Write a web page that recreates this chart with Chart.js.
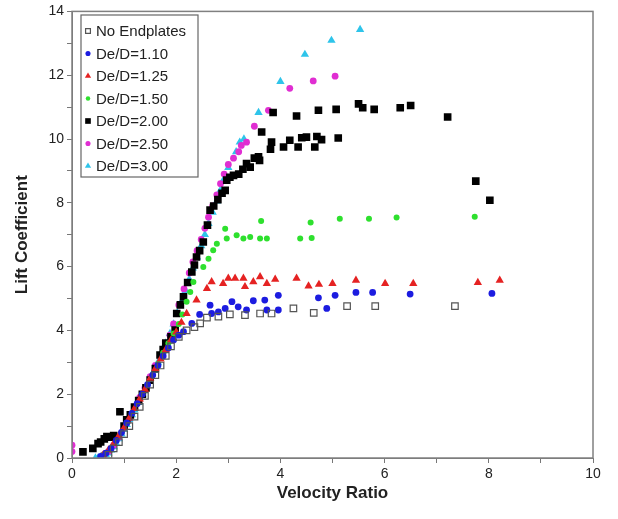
<!DOCTYPE html>
<html>
<head>
<meta charset="utf-8">
<script src="https://cdn.jsdelivr.net/npm/chart.js@4.4.0/dist/chart.umd.min.js"></script>
<style>
  html, body { margin: 0; padding: 0; background: #fff; }
  #mycanvas { display: block; }
</style>
</head>
<body>
<canvas id="mycanvas" width="618" height="519"></canvas>
<script>
// series labels and values, [velocity ratio, lift coefficient]
const seriesLabels = ['No Endplates', 'De/D=1.10', 'De/D=1.25', 'De/D=1.50', 'De/D=2.00', 'De/D=2.50', 'De/D=3.00'];

const noEndplates = [[0.7, 0.1], [0.8, 0.3], [0.9, 0.5], [1.0, 0.75], [1.1, 1.0], [1.2, 1.3], [1.3, 1.6], [1.4, 1.95],
    [1.5, 2.3], [1.6, 2.6], [1.7, 2.9], [1.8, 3.2], [1.9, 3.5], [2.05, 3.8], [2.2, 4.0], [2.35, 4.1], [2.46, 4.22],
    [2.59, 4.4], [2.81, 4.43], [3.03, 4.5], [3.32, 4.48], [3.61, 4.53], [3.83, 4.53], [4.25, 4.69], [4.64, 4.55],
    [5.28, 4.76], [5.82, 4.76], [7.35, 4.76]];

const de110 = [[0.55, 0.05], [0.65, 0.15], [0.75, 0.3], [0.85, 0.55], [0.95, 0.8], [1.05, 1.1], [1.15, 1.4],
    [1.25, 1.7], [1.35, 2.0], [1.45, 2.3], [1.55, 2.6], [1.65, 2.9], [1.75, 3.2], [1.85, 3.45], [1.95, 3.7],
    [2.05, 3.85], [2.14, 3.96], [2.3, 4.22], [2.45, 4.5], [2.65, 4.79], [2.68, 4.53], [2.81, 4.58], [2.94, 4.69],
    [3.07, 4.9], [3.19, 4.74], [3.35, 4.64], [3.48, 4.93], [3.7, 4.95], [3.74, 4.64], [3.96, 4.64], [3.96, 5.1],
    [4.73, 5.02], [4.89, 4.69], [5.05, 5.1], [5.45, 5.19], [5.77, 5.19], [6.49, 5.14], [8.06, 5.16]];

const de125 = [[0.6, 0.1], [0.7, 0.25], [0.8, 0.45], [0.9, 0.7], [1.0, 0.95], [1.1, 1.25], [1.2, 1.55], [1.3, 1.85],
    [1.4, 2.15], [1.5, 2.5], [1.6, 2.8], [1.7, 3.1], [1.8, 3.4], [1.9, 3.7], [2.0, 3.95], [2.1, 4.25], [2.2, 4.53],
    [2.39, 4.95], [2.59, 5.31], [2.68, 5.52], [2.9, 5.47], [3.0, 5.63], [3.13, 5.63], [3.29, 5.63], [3.32, 5.37],
    [3.48, 5.52], [3.61, 5.68], [3.74, 5.47], [3.9, 5.6], [4.31, 5.63], [4.54, 5.39], [4.74, 5.44], [5.0, 5.47],
    [5.45, 5.57], [6.01, 5.47], [6.55, 5.47], [7.79, 5.5], [8.21, 5.57]];

const de150 = [[0.6, 0.1], [0.75, 0.3], [0.85, 0.55], [0.95, 0.8], [1.05, 1.1], [1.15, 1.4], [1.25, 1.7],
    [1.35, 2.0], [1.45, 2.3], [1.55, 2.6], [1.65, 2.95], [1.75, 3.3], [1.85, 3.6], [1.95, 3.9], [2.05, 4.2],
    [2.12, 4.5], [2.2, 4.9], [2.27, 5.2], [2.33, 5.52], [2.52, 5.99], [2.62, 6.25], [2.71, 6.51], [2.78, 6.72],
    [2.94, 7.19], [2.97, 6.88], [3.16, 6.98], [3.29, 6.88], [3.42, 6.93], [3.61, 6.88], [3.63, 7.43], [3.74, 6.88],
    [4.38, 6.88], [4.58, 7.38], [4.6, 6.9], [5.14, 7.5], [5.7, 7.5], [6.23, 7.54], [7.73, 7.56]];

const de200 = [[0.21, 0.19], [0.4, 0.3], [0.5, 0.45], [0.55, 0.5], [0.62, 0.6], [0.67, 0.67], [0.75, 0.65],
    [0.8, 0.7], [0.92, 1.45], [1.0, 1.0], [1.05, 1.2], [1.12, 1.35], [1.2, 1.6], [1.28, 1.8], [1.35, 2.0], [1.42, 2.2],
    [1.5, 2.44], [1.6, 2.8], [1.69, 3.23], [1.75, 3.4], [1.8, 3.6], [1.9, 3.8], [1.98, 4.01], [2.01, 4.53],
    [2.08, 4.8], [2.14, 5.05], [2.22, 5.5], [2.3, 5.83], [2.35, 6.05], [2.39, 6.3], [2.45, 6.5], [2.52, 6.77],
    [2.6, 7.3], [2.65, 7.77], [2.72, 7.9], [2.8, 8.1], [2.88, 8.3], [2.94, 8.39], [2.97, 8.71], [3.03, 8.8],
    [3.1, 8.86], [3.2, 8.9], [3.28, 9.05], [3.35, 9.23], [3.42, 9.12], [3.5, 9.4], [3.58, 9.44], [3.6, 9.33],
    [3.64, 10.22], [3.81, 9.68], [3.83, 9.9], [3.86, 10.83], [4.06, 9.75], [4.18, 9.96], [4.31, 10.72], [4.34, 9.75],
    [4.41, 10.04], [4.5, 10.06], [4.66, 9.75], [4.7, 10.08], [4.73, 10.9], [4.79, 9.98], [5.07, 10.93],
    [5.11, 10.03], [5.5, 11.1], [5.58, 10.98], [5.8, 10.93], [6.3, 10.98], [6.5, 11.05], [7.21, 10.69],
    [7.75, 8.68], [8.02, 8.08]];

const de250 = [[0.0, 0.4], [0.0, 0.2], [0.6, 0.1], [0.7, 0.2], [0.8, 0.4], [0.9, 0.65], [1.0, 0.95], [1.1, 1.25],
    [1.2, 1.6], [1.3, 1.9], [1.4, 2.2], [1.5, 2.55], [1.6, 2.9], [1.7, 3.2], [1.8, 3.5], [1.88, 3.85], [1.95, 4.2],
    [2.05, 4.8], [2.15, 5.3], [2.25, 5.8], [2.32, 6.15], [2.4, 6.5], [2.48, 6.85], [2.55, 7.2], [2.62, 7.55],
    [2.7, 7.9], [2.78, 8.25], [2.85, 8.6], [2.92, 8.9], [3.0, 9.2], [3.1, 9.4], [3.2, 9.6], [3.25, 9.8],
    [3.35, 9.9], [3.5, 10.4], [3.77, 10.9], [4.18, 11.59], [4.63, 11.82], [5.05, 11.97]];

const de300 = [[0.45, 0.0], [0.5, 0.0], [0.55, 0.02], [0.6, 0.05], [0.65, 0.1], [0.7, 0.15], [0.75, 0.25],
    [0.8, 0.35], [0.85, 0.45], [0.9, 0.6], [0.95, 0.75], [1.0, 0.9], [1.05, 1.05], [1.1, 1.2], [1.15, 1.35],
    [1.2, 1.5], [1.28, 1.75], [1.35, 2.0], [1.42, 2.25], [1.5, 2.5], [1.58, 2.75], [1.65, 3.0], [1.72, 3.3],
    [1.8, 3.6], [1.88, 3.9], [1.95, 4.2], [2.02, 4.55], [2.1, 4.9], [2.18, 5.25], [2.25, 5.6], [2.32, 5.95],
    [2.4, 6.3], [2.48, 6.65], [2.55, 7.0], [2.62, 7.35], [2.7, 7.7], [2.78, 8.05], [2.85, 8.4], [2.92, 8.75],
    [3.0, 9.1], [3.15, 9.6], [3.22, 9.9], [3.3, 10.0], [3.58, 10.83], [4.0, 11.8], [4.47, 12.65], [4.98, 13.09],
    [5.53, 13.43]];

const seriesValues = [noEndplates, de110, de125, de150, de200, de250, de300];

const styles = [
    { pointStyle: 'rect', radius: 4.6, fill: 'rgba(0,0,0,0)', stroke: '#555', bw: 1.2 },
    { pointStyle: 'circle', radius: 3.4, fill: '#1c1ce0', stroke: '#1c1ce0', bw: 0 },
    { pointStyle: 'triangle', radius: 4.8, fill: '#e52222', stroke: '#e52222', bw: 0 },
    { pointStyle: 'circle', radius: 3, fill: '#2ee02e', stroke: '#2ee02e', bw: 0 },
    { pointStyle: 'rect', radius: 5.4, fill: '#000', stroke: '#000', bw: 0 },
    { pointStyle: 'circle', radius: 3.4, fill: '#e02ed2', stroke: '#e02ed2', bw: 0 },
    { pointStyle: 'triangle', radius: 4.8, fill: '#2ec4ea', stroke: '#2ec4ea', bw: 0 }
];

const datasets = seriesValues.map((vals, i) => ({
    label: seriesLabels[i],
    data: vals.map(p => ({ x: p[0], y: p[1] })),
    pointStyle: styles[i].pointStyle,
    pointRadius: styles[i].radius,
    pointBackgroundColor: styles[i].fill,
    pointBorderColor: styles[i].stroke,
    pointBorderWidth: styles[i].bw,
    showLine: false
}));

function drawMarker(ctx, s, x, y, r) {
    ctx.save();
    ctx.fillStyle = s.fill;
    ctx.strokeStyle = s.stroke;
    ctx.lineWidth = s.bw;
    ctx.beginPath();
    if (s.pointStyle === 'rect') {
        ctx.rect(x - r * 0.7, y - r * 0.7, r * 1.4, r * 1.4);
    } else if (s.pointStyle === 'triangle') {
        ctx.moveTo(x, y - r);
        ctx.lineTo(x + r * 0.87, y + r * 0.5);
        ctx.lineTo(x - r * 0.87, y + r * 0.5);
        ctx.closePath();
    } else {
        ctx.arc(x, y, r, 0, Math.PI * 2);
    }
    ctx.fill();
    if (s.bw > 0) ctx.stroke();
    ctx.restore();
}

// frame around the plot and the boxed legend in the top left corner
const framePlugin = {
    id: 'frame',
    afterDraw(chart) {
        const ctx = chart.ctx;
        const a = chart.chartArea;
        ctx.save();
        ctx.strokeStyle = '#808080';
        ctx.lineWidth = 1.5;
        ctx.strokeRect(a.left, a.top, a.right - a.left, a.bottom - a.top);

        const bx = 81, by = 15, bw = 117, bh = 162;
        ctx.fillStyle = '#fff';
        ctx.fillRect(bx, by, bw, bh);
        ctx.strokeStyle = '#666';
        ctx.lineWidth = 1.2;
        ctx.strokeRect(bx, by, bw, bh);

        ctx.font = '15px "Liberation Sans", Arial, sans-serif';
        ctx.fillStyle = '#222';
        ctx.textBaseline = 'middle';
        seriesLabels.forEach((label, i) => {
            const y = 31 + i * 22.5;
            drawMarker(ctx, styles[i], 88, y, styles[i].radius * 0.75);
            ctx.fillText(label, 96, y + 1);
        });
        ctx.restore();
    }
};

function tickLabel(v) {
    return v % 2 === 0 ? v : '';
}

const ctx = document.getElementById('mycanvas');
window.myLiftChart = new Chart(ctx, {
    type: 'scatter',
    data: { datasets: datasets },
    options: {
        responsive: false,
        animation: false,
        devicePixelRatio: 1,
        layout: { padding: { top: 11, right: 25, bottom: 11, left: 8 } },
        plugins: {
            legend: { display: false },
            tooltip: { enabled: false }
        },
        scales: {
            x: {
                min: 0,
                max: 10,
                afterFit: s => { s.height = 50; },
                ticks: {
                    stepSize: 1,
                    autoSkip: false,
                    maxRotation: 0,
                    callback: tickLabel,
                    color: '#222',
                    font: { family: '"Liberation Sans", Arial', size: 14 }
                },
                grid: { drawOnChartArea: false, tickLength: 5, color: '#777' },
                border: { color: '#777' },
                title: {
                    display: true,
                    text: 'Velocity Ratio',
                    color: '#222',
                    font: { family: '"Liberation Sans", Arial', size: 17, weight: 'bold' }
                }
            },
            y: {
                min: 0,
                max: 14,
                afterFit: s => { s.width = 64; },
                ticks: {
                    stepSize: 1,
                    autoSkip: false,
                    callback: tickLabel,
                    color: '#222',
                    font: { family: '"Liberation Sans", Arial', size: 14 }
                },
                grid: { drawOnChartArea: false, tickLength: 5, color: '#777' },
                border: { color: '#777' },
                title: {
                    display: true,
                    text: 'Lift Coefficient',
                    color: '#222',
                    font: { family: '"Liberation Sans", Arial', size: 17, weight: 'bold' }
                }
            }
        }
    },
    plugins: [framePlugin]
});
</script>
</body>
</html>
